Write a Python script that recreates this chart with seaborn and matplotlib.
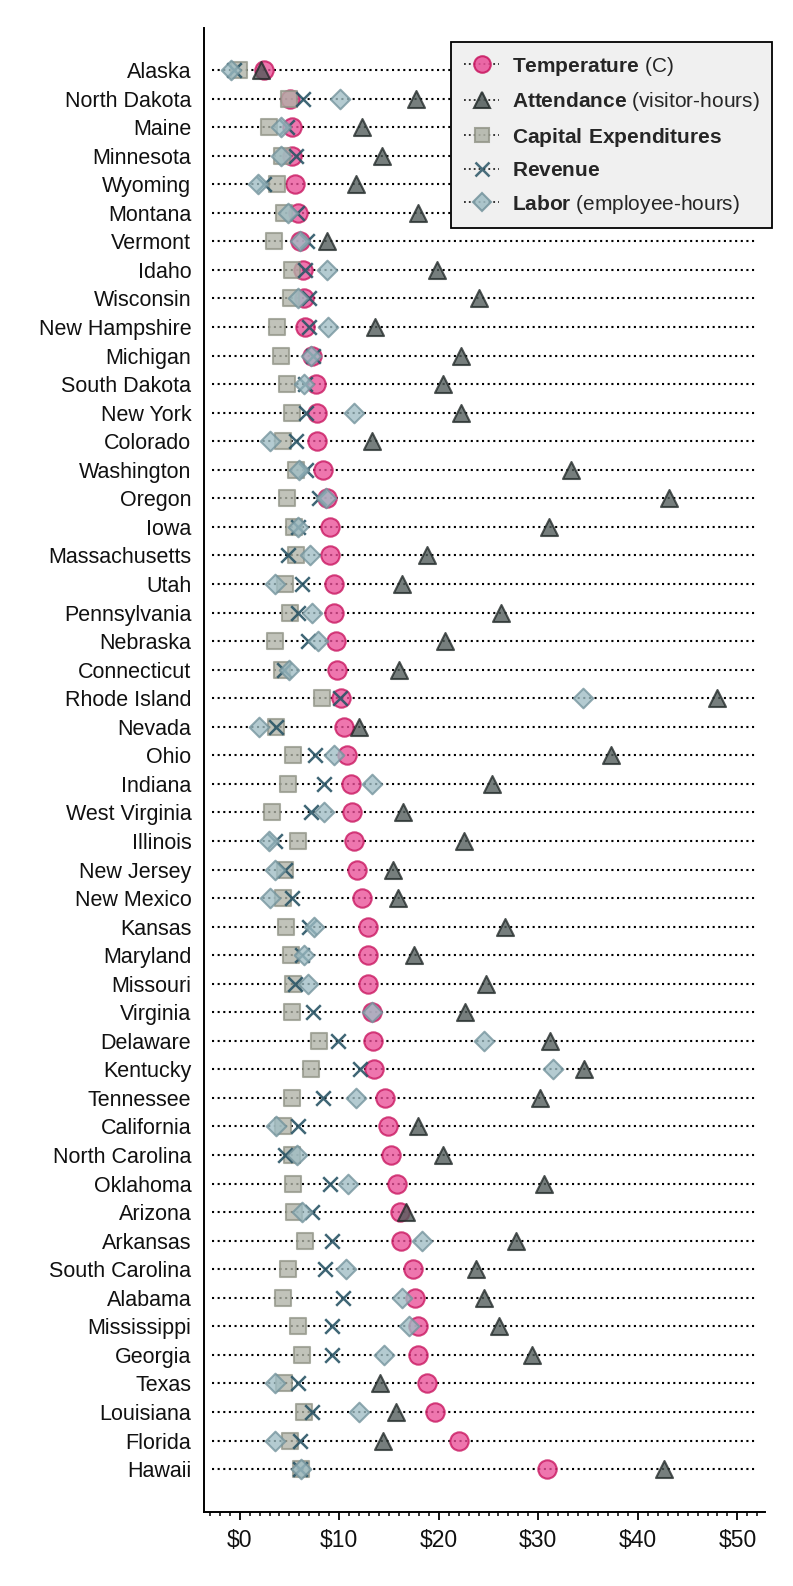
import matplotlib
matplotlib.use("Agg")
import matplotlib.pyplot as plt
from matplotlib.lines import Line2D
from matplotlib.ticker import MultipleLocator, FuncFormatter
import seaborn as sns
import pandas as pd

# values (dollars)
states = ["Alaska", "North Dakota", "Maine", "Minnesota", "Wyoming", "Montana", "Vermont",
          "Idaho", "Wisconsin", "New Hampshire", "Michigan", "South Dakota", "New York",
          "Colorado", "Washington", "Oregon", "Iowa", "Massachusetts", "Utah", "Pennsylvania",
          "Nebraska", "Connecticut", "Rhode Island", "Nevada", "Ohio", "Indiana",
          "West Virginia", "Illinois", "New Jersey", "New Mexico", "Kansas", "Maryland",
          "Missouri", "Virginia", "Delaware", "Kentucky", "Tennessee", "California",
          "North Carolina", "Oklahoma", "Arizona", "Arkansas", "South Carolina", "Alabama",
          "Mississippi", "Georgia", "Texas", "Louisiana", "Florida", "Hawaii"]

temperature = [2.4, 5.1, 5.3, 5.3, 5.6, 5.9, 6.1, 6.4, 6.5, 6.6, 7.3, 7.7, 7.8, 7.8, 8.4,
               8.8, 9.1, 9.1, 9.5, 9.5, 9.7, 9.8, 10.2, 10.5, 10.8, 11.2, 11.3, 11.5, 11.8,
               12.3, 12.9, 12.9, 12.9, 13.3, 13.4, 13.5, 14.6, 14.9, 15.2, 15.8, 16.1, 16.2,
               17.4, 17.6, 17.9, 17.9, 18.8, 19.6, 22.0, 30.9]
attendance = [2.1, 17.7, 12.3, 14.3, 11.7, 17.9, 8.8, 19.8, 24.0, 13.6, 22.2, 20.4, 22.2,
              13.3, 33.3, 43.1, 31.1, 18.8, 16.3, 26.3, 20.6, 16.0, 48.0, 12.0, 37.3, 25.4,
              16.4, 22.5, 15.4, 15.9, 26.7, 17.5, 24.7, 22.6, 31.2, 34.6, 30.2, 17.9, 20.4,
              30.6, 16.7, 27.8, 23.7, 24.5, 26.1, 29.4, 14.1, 15.7, 14.4, 42.6]
capex = [-0.1, 5.0, 2.9, 4.3, 3.8, 4.5, 3.5, 5.3, 5.2, 3.8, 4.2, 4.8, 5.3, 4.4, 5.7, 4.8,
         5.5, 5.7, 4.6, 5.1, 3.6, 4.3, 8.3, 3.7, 5.4, 4.9, 3.3, 5.9, 4.6, 4.4, 4.7, 5.2,
         5.4, 5.3, 8.0, 7.2, 5.3, 4.4, 5.3, 5.4, 5.5, 6.6, 4.9, 4.4, 5.9, 6.3, 4.5, 6.5,
         5.1, 6.2]
revenue = [-0.6, 6.4, 4.8, 5.7, 2.4, 5.8, 6.8, 6.6, 7.0, 7.0, 7.4, 6.6, 6.7, 5.7, 6.7, 8.0,
           5.9, 4.9, 6.3, 5.9, 6.9, 4.5, 10.1, 3.7, 7.6, 8.5, 7.2, 3.6, 4.6, 5.3, 7.0, 6.3,
           5.6, 7.4, 9.9, 12.1, 8.4, 5.9, 4.6, 9.1, 7.3, 9.3, 8.6, 10.4, 9.3, 9.3, 5.9, 7.3,
           6.1, 6.1]
labor = [-0.9, 10.1, 4.2, 4.2, 1.8, 4.9, 6.1, 8.8, 5.9, 8.9, 7.2, 6.5, 11.5, 3.0, 6.0, 8.7,
         5.9, 7.1, 3.6, 7.3, 7.9, 5.0, 34.5, 1.9, 9.5, 13.3, 8.5, 2.9, 3.6, 3.1, 7.5, 6.5,
         6.9, 13.3, 24.5, 31.5, 11.7, 3.7, 5.8, 10.9, 6.3, 18.3, 10.7, 16.3, 17.0, 14.5,
         3.6, 12.0, 3.6, 6.2]

sns.set_style("white")
plt.rcParams["font.family"] = ["Liberation Sans", "DejaVu Sans"]
plt.rcParams["mathtext.fontset"] = "custom"
plt.rcParams["mathtext.rm"] = "Liberation Sans"
plt.rcParams["mathtext.bf"] = "Liberation Sans:bold"

df = pd.DataFrame({"state": states, "pos": range(len(states)),
                   "Temperature": temperature, "Attendance": attendance,
                   "Capital": capex, "Revenue": revenue, "Labor": labor})

# column, legend label, marker, size, face, edge
series = [
    ("Temperature", r"$\bf{Temperature}$ (C)", "o", 175, "#ea4f98", "#c8145e"),
    ("Attendance", r"$\bf{Attendance}$ (visitor-hours)", "^", 150, "#4f5a58", "#222a29"),
    ("Capital", r"$\bf{Capital\ Expenditures}$", "s", 130, "#b0b3a7", "#939689"),
    ("Revenue", r"$\bf{Revenue}$", "x", 110, "#2a5566", "#2a5566"),
    ("Labor", r"$\bf{Labor}$ (employee-hours)", "D", 100, "#9fbdc4", "#73939c"),
]
dots = (0, (1, 1.7))

fig = plt.figure(figsize=(7.93, 15.86), dpi=100)
ax = fig.add_axes([0.257, 0.0467, 0.708, 0.9356])

ax.hlines(df["pos"], -2.8, 52.0, colors="black", linestyles=dots,
          linewidth=1.5, zorder=1)

handles = []
for col, label, mk, size, face, edge in series:
    if mk == "x":
        sns.scatterplot(data=df, x=col, y="pos", marker="x", s=size, color=edge,
                        linewidth=1.8, alpha=0.9, ax=ax, zorder=3)
    else:
        sns.scatterplot(data=df, x=col, y="pos", marker=mk, s=size, color=face,
                        edgecolor=edge, linewidth=1.5, alpha=0.78, ax=ax, zorder=3)
    handles.append(Line2D([], [], color="black", linestyle=dots, linewidth=1.3,
                          marker=mk, markersize=size ** 0.5 * 0.9,
                          markerfacecolor=face, markeredgecolor=edge,
                          markeredgewidth=1.5 if mk != "x" else 1.8, alpha=0.85,
                          label=label))

ax.set_xlim(-3.6, 52.8)
ax.set_ylim(50.5, -1.47)
ax.set_yticks(df["pos"])
ax.set_yticklabels(states)
ax.xaxis.set_major_locator(MultipleLocator(10))
ax.xaxis.set_minor_locator(MultipleLocator(1))
ax.xaxis.set_major_formatter(FuncFormatter(lambda v, p: f"${v:.0f}"))
ax.set_xlabel("")
ax.set_ylabel("")

for side in ["top", "right"]:
    ax.spines[side].set_visible(False)
for side in ["left", "bottom"]:
    ax.spines[side].set_color("black")
    ax.spines[side].set_linewidth(1.4)

ax.tick_params(axis="y", length=0, pad=9, labelsize=15.5, labelcolor="#111111")
ax.tick_params(axis="x", which="major", direction="out", length=6, width=1.3,
               pad=6, labelsize=16.5, color="black", labelcolor="#111111", bottom=True)
ax.tick_params(axis="x", which="minor", direction="out", length=3.2, width=1.1,
               color="black", bottom=True)

leg = fig.legend(handles=handles, loc="upper right", bbox_to_anchor=(0.9735, 0.9735),
                 bbox_transform=fig.transFigure, borderaxespad=0, fontsize=15,
                 frameon=True, fancybox=False, framealpha=1, facecolor="#f0f0f0",
                 edgecolor="black", handlelength=1.7, handletextpad=0.6,
                 labelspacing=0.6, borderpad=0.6)
leg.get_frame().set_linewidth(1.3)

fig.savefig("out.png", dpi=100, facecolor="white")
